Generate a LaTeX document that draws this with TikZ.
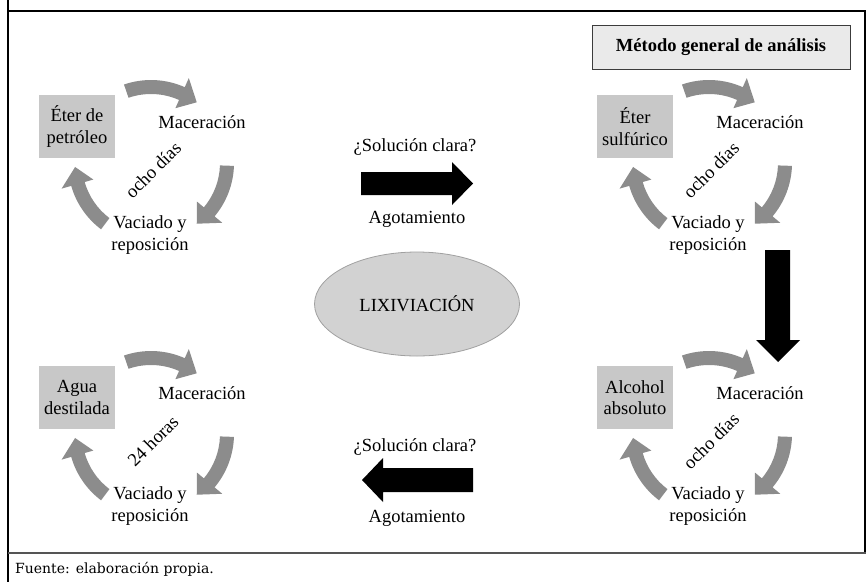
\documentclass[tikz,border=0pt]{standalone}
\usepackage{fontspec}
\setmainfont{Liberation Serif}
\newfontfamily\srcfont{DejaVu Serif}
\usetikzlibrary{calc,shapes.geometric}
\definecolor{arrowgray}{RGB}{140,140,140}
\definecolor{boxgray}{RGB}{200,200,200}
\definecolor{ellgray}{RGB}{210,210,210}
\definecolor{ellline}{RGB}{160,160,160}
\definecolor{titlefill}{RGB}{234,234,234}
\definecolor{titleline}{RGB}{60,60,60}
\definecolor{rulegray}{RGB}{85,85,85}
\tikzset{
  solventbox/.style={fill=boxgray, minimum width=76, minimum height=63, inner sep=0pt, align=center},
  steptext/.style={align=center, inner sep=1pt},
  cyclearrowfill/.style={fill=arrowgray},
  blockarrow/.style={fill=black},
  titlebox/.style={fill=titlefill, draw=titleline, line width=1pt, minimum width=258, minimum height=44, inner sep=0pt},
  framerule/.style={line width=2.5pt, black},
}
% #1 start angle, #2 head base angle, #3 tip angle (relative to current scope origin)
\newcommand\cyclearrow[3]{%
  \fill[cyclearrowfill] (#1:83) arc[start angle=#1, end angle=#2, radius=83]
    -- (#2:93) -- (#3:76) -- (#2:60) -- (#2:69)
    arc[start angle=#2, end angle=#1, radius=69] -- cycle;
}
% #1 prefix, #2 solvent text, #3 period text
\newcommand\leachcycle[3]{%
  \cyclearrow{109}{66}{53}
  \cyclearrow{-2}{-40}{-53}
  \cyclearrow{233}{196}{183}
  \node[solventbox] (#1box) at (-74,36.5) {#2};
  \node[steptext] (#1mac) at (51,41) {Maceración};
  \node[steptext, rotate=45] (#1per) at (2,-7) {#3};
  \node[steptext] (#1vac) at (-1,-72) {Vaciado y\\reposición};
}
\begin{document}
\begin{tikzpicture}[x=1pt, y=1pt, font=\fontsize{18.5}{21.5}\selectfont]
\useasboundingbox (0,0) rectangle (866,-582);
% frame
\draw[framerule] (8,0) -- (8,-582);
\draw[framerule] (8,-11) -- (866,-11);
\draw[line width=1.5pt] (865,-11) -- (865,-553);
\draw[line width=2pt, rulegray] (8,-553) -- (866,-553);
% cycle centres
\coordinate (tlc) at (151,-163);
\coordinate (trc) at (709,-163);
\coordinate (blc) at (151,-434);
\coordinate (brc) at (709,-434);
\begin{scope}[shift={(tlc)}]
  \leachcycle{tl}{Éter de\\petróleo}{ocho días}
\end{scope}
\begin{scope}[shift={(trc)}]
  \leachcycle{tr}{Éter\\sulfúrico}{ocho días}
\end{scope}
\begin{scope}[shift={(blc)}]
  \leachcycle{bl}{Agua\\destilada}{24 horas}
\end{scope}
\begin{scope}[shift={(brc)}]
  \leachcycle{br}{Alcohol\\absoluto}{ocho días}
\end{scope}
% title box
\node[titlebox] (metodo) at (721,-47) {\textbf{Método general de análisis}};
% centre ellipse
\node[ellipse, fill=ellgray, draw=ellline, line width=0.8pt, minimum width=205, minimum height=104, inner sep=0pt] (lix) at (417,-304) {LIXIVIACIÓN};
% upper middle
\node (sol1) at (415,-147) {¿Solución clara?};
\node (ago1) at (417,-219) {Agotamiento};
\fill[blockarrow] (361,-172) -- (452,-172) -- (452,-162) -- (473,-183.5) -- (452,-205) -- (452,-195) -- (361,-195) -- cycle;
% down arrow
\fill[blockarrow] (765,-250) -- (790,-250) -- (790,-340) -- (800,-340) -- (778,-362) -- (756,-340) -- (765,-340) -- cycle;
% lower middle
\node (sol2) at (415,-447) {¿Solución clara?};
\node (ago2) at (417,-518) {Agotamiento};
\fill[blockarrow] (473,-468) -- (383,-468) -- (383,-458) -- (362,-480) -- (383,-502) -- (383,-492) -- (473,-492) -- cycle;
% source
\node[anchor=west, font=\srcfont\fontsize{14}{16}\selectfont, inner sep=0pt] (fuente) at (15,-569) {Fuente: elaboración propia.};
\end{tikzpicture}
\end{document}
